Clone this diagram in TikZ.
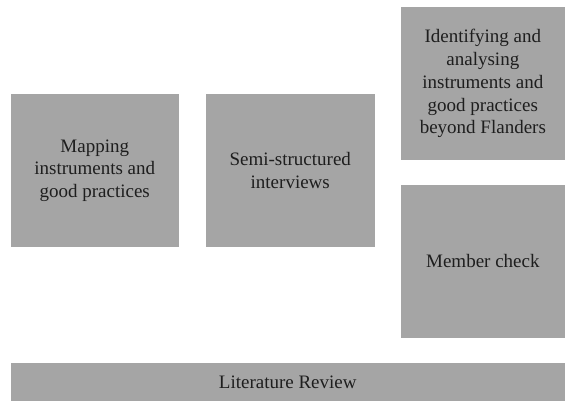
\documentclass[tikz,border=0pt]{standalone}
\usepackage{fontspec}
\setmainfont{Liberation Serif}
\begin{document}
\begin{tikzpicture}[x=1pt,y=-1pt,
  box/.style={fill=boxgray, draw=none, inner sep=0pt, align=center, text=txt,
    font=\fontsize{19}{22.7}\selectfont},
]
\definecolor{boxgray}{RGB}{165,165,165}
\definecolor{txt}{RGB}{30,30,30}
\useasboundingbox (0,0) rectangle (565,401);
\node[box, minimum width=168.5pt, minimum height=152.5pt] (map) at (94.75,170.75) {Mapping\\instruments and\\good practices};
\node[box, minimum width=168.5pt, minimum height=152.5pt] (semi) at (290.25,170.75) {Semi-structured\\interviews};
\node[box, minimum width=164.3pt, minimum height=152.5pt] (ident) at (482.85,83.75) {Identifying and\\analysing\\instruments and\\good practices\\beyond Flanders};
\node[box, minimum width=164.3pt, minimum height=152.7pt] (member) at (482.85,261.35) {Member check};
\node[box, minimum width=554.5pt, minimum height=38.3pt] (lit) at (287.75,381.85) {Literature Review};
\end{tikzpicture}
\end{document}
